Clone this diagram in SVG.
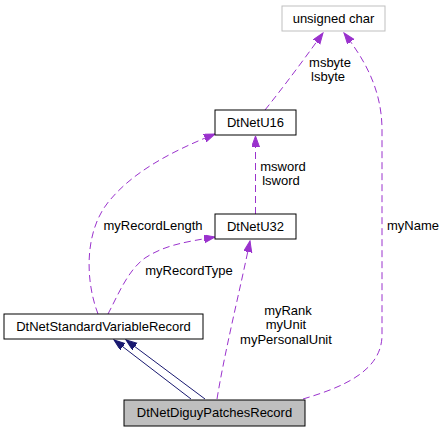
<svg xmlns="http://www.w3.org/2000/svg" width="445" height="432" viewBox="0 0 445 432">
<style>
.node rect{fill:#ffffff;stroke:#000000;stroke-width:1}
.node text{font-family:"Liberation Sans",Arial,sans-serif;font-size:13px;fill:#000000;text-anchor:middle}
.lbl{font-family:"Liberation Sans",Arial,sans-serif;font-size:13px;fill:#000000;text-anchor:middle}
.dep{fill:none;stroke:#9a32cd;stroke-width:1;stroke-dasharray:7,4}
.inh{fill:none;stroke:#191970;stroke-width:1}
</style>
<defs>
<marker id="ap" markerUnits="userSpaceOnUse" markerWidth="12" markerHeight="9" refX="11" refY="4" orient="auto">
<path d="M0,0 L11,4 L0,8 z" fill="#9a32cd" stroke="#9a32cd" stroke-width="1"/>
</marker>
<marker id="an" markerUnits="userSpaceOnUse" markerWidth="12" markerHeight="9" refX="11" refY="4" orient="auto">
<path d="M0,0 L11,4 L0,8 z" fill="#191970" stroke="#191970" stroke-width="1"/>
</marker>
</defs>
<g id="edges">
<path class="dep" d="M265,110 C285,85 305,58 323,33" marker-end="url(#ap)"/>
<path class="dep" d="M303,399 C340,388 382,372 382,335 L382,130 C382,90 365,60 344,33" marker-end="url(#ap)"/>
<path class="dep" d="M255.5,214 L255.5,136" marker-end="url(#ap)"/>
<path class="dep" d="M98,314 C85,280 84,230 110,200 C135,170 175,150 215,134" marker-end="url(#ap)"/>
<path class="dep" d="M108,314 C118,295 128,270 145,258 C165,245 185,242 215,237" marker-end="url(#ap)"/>
<path class="dep" d="M217,399 C225,350 240,290 250,241" marker-end="url(#ap)"/>
<path class="inh" d="M191,399 L114,340" marker-end="url(#an)"/>
<path class="inh" d="M205,399 L126,340" marker-end="url(#an)"/>
<text class="lbl" x="330" y="67">msbyte</text>
<text class="lbl" x="328" y="81">lsbyte</text>
<text class="lbl" x="283" y="171">msword</text>
<text class="lbl" x="281" y="185">lsword</text>
<text class="lbl" x="153" y="230">myRecordLength</text>
<text class="lbl" x="189" y="275">myRecordType</text>
<text class="lbl" x="288" y="315">myRank</text>
<text class="lbl" x="286" y="329">myUnit</text>
<text class="lbl" x="286" y="344">myPersonalUnit</text>
<text class="lbl" x="387" y="230" style="text-anchor:start">myName</text>
</g>
<g id="node-unsigned-char" class="node">
<rect x="282" y="6" width="103" height="25" style="stroke:#bfbfbf"/>
<text x="333.5" y="23">unsigned char</text>
</g>
<g id="node-DtNetU16" class="node">
<rect x="215" y="110" width="81" height="25"/>
<text x="255.5" y="127">DtNetU16</text>
</g>
<g id="node-DtNetU32" class="node">
<rect x="215" y="214" width="81" height="25"/>
<text x="255.5" y="231">DtNetU32</text>
</g>
<g id="node-DtNetStandardVariableRecord" class="node">
<rect x="4" y="314" width="199" height="25"/>
<text x="103.5" y="331">DtNetStandardVariableRecord</text>
</g>
<g id="node-DtNetDiguyPatchesRecord" class="node">
<rect x="124" y="400" width="181" height="26" style="fill:#bfbfbf"/>
<text x="214.5" y="417">DtNetDiguyPatchesRecord</text>
</g>
</svg>
